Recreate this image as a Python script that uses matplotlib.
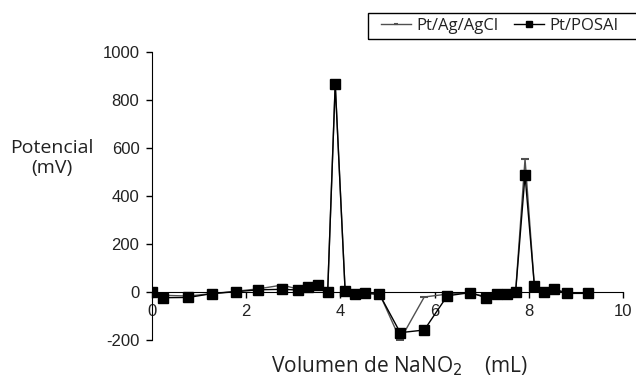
import matplotlib
matplotlib.use("Agg")
import matplotlib.pyplot as plt
from matplotlib.patches import Rectangle

plt.rcParams["axes.unicode_minus"] = False

# Data
vol = [0.0, 0.24, 0.77, 1.27, 1.78, 2.26, 2.77, 3.11, 3.32, 3.52, 3.73, 3.89,
       4.10, 4.31, 4.52, 4.83, 5.27, 5.78, 6.27, 6.75, 7.10, 7.32, 7.53, 7.72,
       7.92, 8.12, 8.33, 8.54, 8.82, 9.26]
pt_agcl = [0, -15, -18, -8, 2, 12, 28, 10, 20, 28, 2, 870,
           5, -8, -5, -8, -200, -22, -10, -4, -22, -10, -8, 0,
           555, 20, 0, 10, -5, -5]
pt_posai = [0, -25, -24, -8, 0, 8, 10, 7, 21, 30, 0, 866,
            4, -11, -7, -11, -171, -160, -17, -4, -25, -11, -11, -1,
            487, 22, -1, 10, -7, -7]

xticks = [0, 2, 4, 6, 8, 10]
yticks = [-200, 0, 200, 400, 600, 800, 1000]

W, H = 636, 381
fig = plt.figure(figsize=(W / 100, H / 100), dpi=100)
ax = fig.add_axes([152/W, 41.4/H, (623-152)/W, (339.6-52.3)/H])

ax.plot(vol, pt_agcl, color="#505050", lw=1.0, marker="_", ms=6, mew=1.5,
        label="Pt/Ag/AgCl", zorder=2)
ax.plot(vol, pt_posai, color="black", lw=1.0, marker="s", ms=7,
        label="Pt/POSAI", zorder=3)

ax.set_xlim(0, 10)
ax.set_ylim(-200, 1000)
ax.set_xticks(xticks)
ax.set_yticks(yticks)
ax.spines["top"].set_visible(False)
ax.spines["right"].set_visible(False)
ax.spines["bottom"].set_position(("data", 0))
ax.tick_params(axis="both", direction="out", length=4, width=1,
               labelsize=12, pad=5)
for lbl in ax.get_xticklabels() + ax.get_yticklabels():
    lbl.set_fontfamily("Liberation Sans")
    lbl.set_color("#222222")

fig.text(52/W, 1 - 158/H, "Potencial\n(mV)", ha="center", va="center",
         fontsize=14, family="Open Sans", color="#222222", linespacing=1.2)
fig.text(400/W, 1 - 366/H, r"Volumen de NaNO$_2$    (mL)", ha="center",
         va="center", fontsize=15, family="Open Sans", color="#222222")

# Legend frame drawn as a plain rectangle
fig.patches.append(Rectangle((368/W, 1 - 39.3/H), (W + 5 - 368)/W, 26.6/H,
                             transform=fig.transFigure, fill=False,
                             edgecolor="black", lw=1.0, clip_on=False))
leg = fig.legend(loc="center left", bbox_to_anchor=(381/W, 1 - 26/H),
                 ncol=2, frameon=False, markerscale=0.6,
                 handlelength=1.8, handletextpad=0.35, columnspacing=0.9,
                 borderpad=0, prop={"family": "Open Sans", "size": 12},
                 borderaxespad=0)
for t in leg.get_texts():
    t.set_color("#222222")

fig.savefig("out.png", dpi=100)
